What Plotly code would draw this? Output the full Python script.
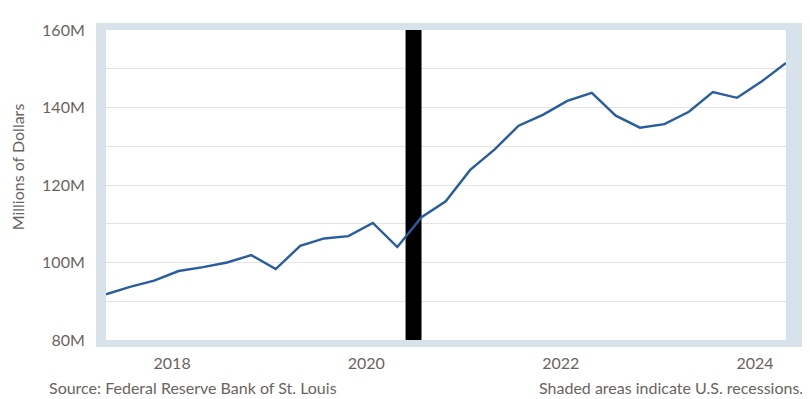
import plotly.graph_objects as go

# Quarterly observations (period start dates)
dates = [
    "2017-01-01", "2017-04-01", "2017-07-01", "2017-10-01",
    "2018-01-01", "2018-04-01", "2018-07-01", "2018-10-01",
    "2019-01-01", "2019-04-01", "2019-07-01", "2019-10-01",
    "2020-01-01", "2020-04-01", "2020-07-01", "2020-10-01",
    "2021-01-01", "2021-04-01", "2021-07-01", "2021-10-01",
    "2022-01-01", "2022-04-01", "2022-07-01", "2022-10-01",
    "2023-01-01", "2023-04-01", "2023-07-01", "2023-10-01",
    "2024-01-01",
]
values_m = [
    91.8, 93.7, 95.3, 97.8,
    98.8, 100.0, 101.9, 98.3,
    104.3, 106.2, 106.8, 110.2,
    104.0, 111.7, 115.8, 123.9,
    129.2, 135.3, 138.1, 141.7,
    143.8, 137.9, 134.8, 135.7,
    138.9, 144.0, 142.5, 146.7,
    151.5,
]

recession_start = "2020-02-01"
recession_end = "2020-04-01"

x_tick_dates = ["2017-01-01", "2018-01-01", "2019-01-01", "2020-01-01",
                "2021-01-01", "2022-01-01", "2023-01-01", "2024-01-01"]
x_tick_text = ["", "2018", "", "2020", "", "2022", "", "2024"]
y_tick_vals = [80, 100, 120, 140, 160]
y_tick_text = ["80M", "100M", "120M", "140M", "160M"]
y_range = [80, 160]

FONT = "Lato, 'Open Sans', sans-serif"
TEXT_COLOR = "#6a645e"
FRAME = "#d7e2eb"
GRID = "#e4e4e4"

fig = go.Figure()

# recession shading (filled trace on the main y axis)
fig.add_trace(go.Scatter(
    x=[recession_start, recession_end, recession_end, recession_start, recession_start],
    y=[y_range[0], y_range[0], y_range[1], y_range[1], y_range[0]],
    mode="lines", fill="toself", fillcolor="#000000",
    line=dict(width=0, color="#000000"),
    hoverinfo="skip", showlegend=False,
))

# series line on the overlaying axis (same range) so it sits above the shading
fig.add_trace(go.Scatter(
    x=dates, y=values_m, mode="lines", yaxis="y2",
    line=dict(color="#285d9f", width=2.4),
    hoverinfo="skip", showlegend=False,
))

fig.update_layout(
    width=802, height=391,
    margin=dict(l=98, r=24, t=12, b=59),
    paper_bgcolor="white", plot_bgcolor="white",
    font=dict(family=FONT, size=16, color=TEXT_COLOR),
    xaxis=dict(
        type="date",
        range=[dates[0], dates[-1]],
        tickvals=x_tick_dates, ticktext=x_tick_text,
        ticks="",
        ticklabelshift=-31, ticklabelstandoff=3,
        showgrid=False, zeroline=False,
        showline=True, linecolor=FRAME, linewidth=7, mirror=True,
        tickfont=dict(size=16, color=TEXT_COLOR),
    ),
    yaxis=dict(
        range=y_range,
        tickvals=y_tick_vals, ticktext=y_tick_text,
        showgrid=True, gridcolor=GRID, gridwidth=1,
        minor=dict(dtick=10, tick0=80, showgrid=True, gridcolor=GRID, gridwidth=1),
        zeroline=False, ticks="",
        showline=True, linecolor=FRAME, linewidth=10, mirror=False,
        ticklabelstandoff=8,
        tickfont=dict(size=16, color=TEXT_COLOR),
    ),
    yaxis2=dict(
        range=y_range, overlaying="y", side="right",
        showgrid=False, zeroline=False, ticks="", showticklabels=False,
        showline=True, linecolor=FRAME, linewidth=20,
    ),
    annotations=[
        dict(text="Millions of Dollars", xref="paper", yref="paper",
             x=-0.131, y=0.56, textangle=-90, showarrow=False,
             xanchor="center", yanchor="middle",
             font=dict(size=16, color=TEXT_COLOR, family=FONT)),
        dict(text="Source: Federal Reserve Bank of St. Louis", xref="paper", yref="paper",
             x=-0.087, y=-0.153, showarrow=False, xanchor="left", yanchor="middle",
             font=dict(size=16, color=TEXT_COLOR, family=FONT)),
        dict(text="Shaded areas indicate U.S. recessions.", xref="paper", yref="paper",
             x=1.028, y=-0.153, showarrow=False, xanchor="right", yanchor="middle",
             font=dict(size=16, color=TEXT_COLOR, family=FONT)),
    ],
)

fig.write_html("out.html")
